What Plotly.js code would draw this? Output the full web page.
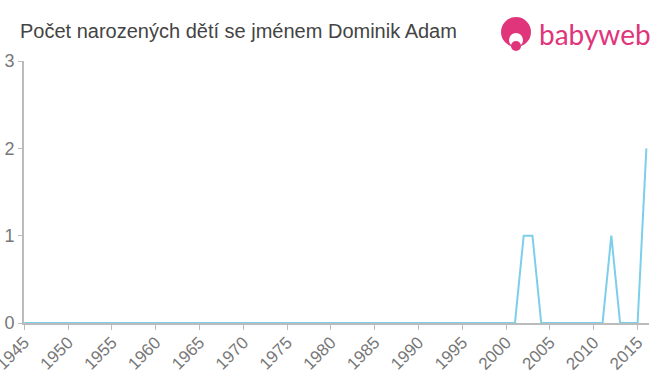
<!DOCTYPE html>
<html>
<head>
<meta charset="utf-8">
<script src="https://cdn.plot.ly/plotly-3.0.1.min.js"></script>
<style>html,body{margin:0;padding:0;background:#fff;}#chart{width:660px;height:375px;}</style>
</head>
<body>
<div id="chart"></div>
<script>
var years = [];
for (var y = 1945; y <= 2016; y++) years.push(y);
var counts = [0,0,0,0,0,0,0,0,0,0, 0,0,0,0,0,0,0,0,0,0,
0,0,0,0,0,0,0,0,0,0, 0,0,0,0,0,0,0,0,0,0,
0,0,0,0,0,0,0,0,0,0, 0,0,0,0,0,0,0,1,1,0,
0,0,0,0,0,0,0,1,0,0, 0,2];
var tickVals = [1945,1950,1955,1960,1965,1970,1975,1980,1985,1990,1995,2000,2005,2010,2015];
var titleText = "Počet narozených dětí se jménem Dominik Adam";

var trace = {
  x: years, y: counts, type: 'scatter', mode: 'lines',
  line: {color: '#7ccfea', width: 2},
  hoverinfo: 'none', cliponaxis: false
};
var font = "Liberation Sans, Arial, sans-serif";
var layout = {
  width: 660, height: 375,
  margin: {l: 24, r: 11, t: 61, b: 52},
  paper_bgcolor: '#fff', plot_bgcolor: '#fff',
  showlegend: false,
  title: {text: titleText, font: {family: font, size: 20, color: '#444'},
    xref: 'container', yref: 'container', x: 20/660, xanchor: 'left', y: 1 - 31/375, yanchor: 'middle'},
  xaxis: {range: [1944.97, 2016.3], tickmode: 'array', tickvals: tickVals, ticktext: tickVals.map(String),
    tickangle: -45, ticks: 'outside', ticklen: 5, tickcolor: '#bbb', tickwidth: 1,
    showline: true, linecolor: '#bbb', linewidth: 2, showgrid: false, zeroline: false,
    ticklabeloverflow: 'allow', ticklabelstandoff: -4,
    tickfont: {family: font, size: 17, color: '#777'}, fixedrange: true, automargin: false},
  yaxis: {range: [0, 3], tickvals: [0,1,2,3], ticks: 'outside', ticklen: 4, tickcolor: '#bbb',
    showline: true, linecolor: '#bbb', linewidth: 2, showgrid: false, zeroline: false,
    tickfont: {family: font, size: 18, color: '#777'}, fixedrange: true, automargin: false},
  shapes: [
    {type: 'circle', xref: 'paper', yref: 'paper', x0: (501-24)/625, x1: (531-24)/625,
      y0: (323-47)/262, y1: (323-17)/262, fillcolor: '#e0357a', line: {width: 0}},
    {type: 'circle', xref: 'paper', yref: 'paper', x0: (509-24)/625, x1: (523-24)/625,
      y0: (323-47)/262, y1: (323-33)/262, fillcolor: '#fff', line: {width: 0}},
    {type: 'circle', xref: 'paper', yref: 'paper', x0: (511-24)/625, x1: (521-24)/625,
      y0: (323-51)/262, y1: (323-41)/262, fillcolor: '#e0357a', line: {width: 0}}
  ],
  annotations: [
    {text: 'babyweb', xref: 'paper', yref: 'paper', x: (537-24)/625, y: (323-34)/262,
      xanchor: 'left', yanchor: 'middle', showarrow: false,
      font: {family: 'Lato, Noto Sans, sans-serif', size: 28, color: '#e0357a'}}
  ]
};
Plotly.newPlot('chart', [trace], layout, {displayModeBar: false, staticPlot: true});
</script>
</body>
</html>
